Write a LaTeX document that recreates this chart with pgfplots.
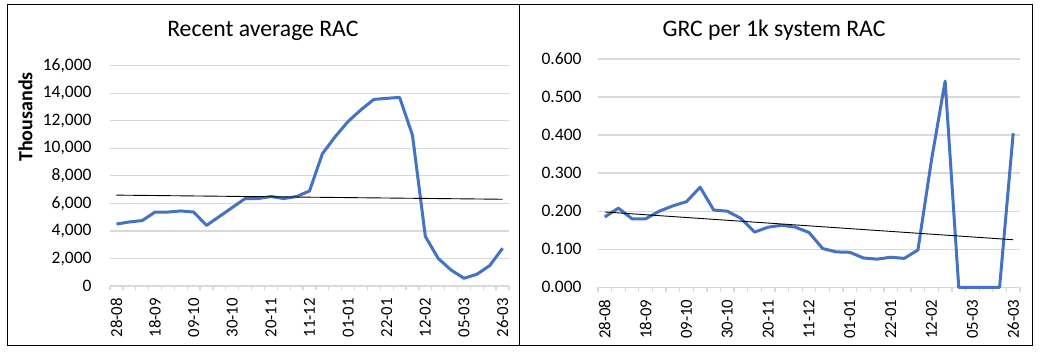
\documentclass[border=0pt]{standalone}
\usepackage{pgfplots}
\pgfplotsset{compat=1.18}
\usepackage{fontspec}
\setmainfont{Carlito}
\definecolor{xlblue}{HTML}{4472C4}
\definecolor{gridgray}{HTML}{D9D9D9}
\begin{document}
\begin{tikzpicture}[x=1pt,y=1pt]
\useasboundingbox (0,0) rectangle (1041,352);
\fill[white] (0,0) rectangle (1041,352);
\draw[black, line width=1pt] (7.3,347.5) rectangle (519.3,6.5);
\draw[black, line width=1pt] (519.3,347.5) rectangle (1032.7,6.5);
\pgfplotsset{
 rac/.style={
  scale only axis,
  xmin=-0.5, xmax=30.5,
  clip=false,
  scaled y ticks=false,
  axis x line*=bottom, axis y line*=left,
  y axis line style={draw=none},
  x axis line style={draw=gridgray, line width=1.3pt},
  ymajorgrids, grid style={draw=gridgray, line width=1.3pt},
  xtick={0,3,...,30},
  xticklabels={28-08,18-09,09-10,30-10,20-11,11-12,01-01,22-01,12-02,05-03,26-03},
  minor xtick={-0.5,0.5,...,30.5},
  major tick length=0pt,
  minor tick length=4.5pt,
  tick align=outside,
  xtick style={draw=gridgray, line width=1.3pt},
  every minor tick/.append style={draw=gridgray, line width=1.3pt},
  ytick style={draw=none},
  xticklabel style={yshift=-12pt, rotate=90, anchor=east, inner sep=0pt, font=\fontsize{16.8}{18}\selectfont},
  yticklabel style={anchor=east, inner sep=0pt, font=\fontsize{17.5}{20}\selectfont},
  title style={anchor=base, inner sep=0pt, font=\fontsize{23.7}{28}\selectfont},
 }
}
\begin{axis}[rac,
  at={(110pt,66pt)}, anchor=south west,
  width=399pt, height=220.3pt,
  ymin=0, ymax=16000,
  ytick={0,2000,...,16000},
  yticklabels={0,{2,000},{4,000},{6,000},{8,000},{10,000},{12,000},{14,000},{16,000}},
  yticklabel style={xshift=-18.3pt},
  title={Recent average RAC},
  title style={at={(axis description cs:0.383,1.104)}},
]
\addplot[xlblue, line width=3pt, line join=round] coordinates {
(0,4500)(1,4650)(2,4750)(3,5370)(4,5370)(5,5450)(6,5370)(7,4400)(8,5050)(9,5700)
(10,6350)(11,6350)(12,6500)(13,6350)(14,6500)(15,6900)(16,9600)(17,10850)(18,11950)(19,12800)
(20,13550)(21,13630)(22,13700)(23,10950)(24,3600)(25,2000)(26,1160)(27,560)(28,850)(29,1480)(30,2740)};
\addplot[black, line width=0.9pt] coordinates {(0,6600)(30,6300)};
\end{axis}
\node[rotate=90, font=\bfseries\fontsize{20}{24}\selectfont] at (25.5,235) {Thousands};
\begin{axis}[rac,
  at={(598pt,64.7pt)}, anchor=south west,
  width=422pt, height=228.3pt,
  ymin=0, ymax=0.6,
  ytick={0,0.1,...,0.6},
  yticklabels={0.000,0.100,0.200,0.300,0.400,0.500,0.600},
  yticklabel style={xshift=-16.3pt},
  title={GRC per 1k system RAC},
  title style={at={(axis description cs:0.417,1.0714)}},
]
\addplot[xlblue, line width=3pt, line join=round] coordinates {
(0,0.185)(1,0.208)(2,0.180)(3,0.180)(4,0.200)(5,0.214)(6,0.225)(7,0.263)(8,0.203)(9,0.200)
(10,0.181)(11,0.145)(12,0.158)(13,0.163)(14,0.158)(15,0.144)(16,0.102)(17,0.093)(18,0.092)(19,0.077)
(20,0.074)(21,0.079)(22,0.076)(23,0.098)(24,0.335)(25,0.542)(26,0)(27,0)(28,0)(29,0)(30,0.405)};
\addplot[black, line width=0.9pt] coordinates {(0,0.198)(30,0.125)};
\end{axis}
\end{tikzpicture}
\end{document}
